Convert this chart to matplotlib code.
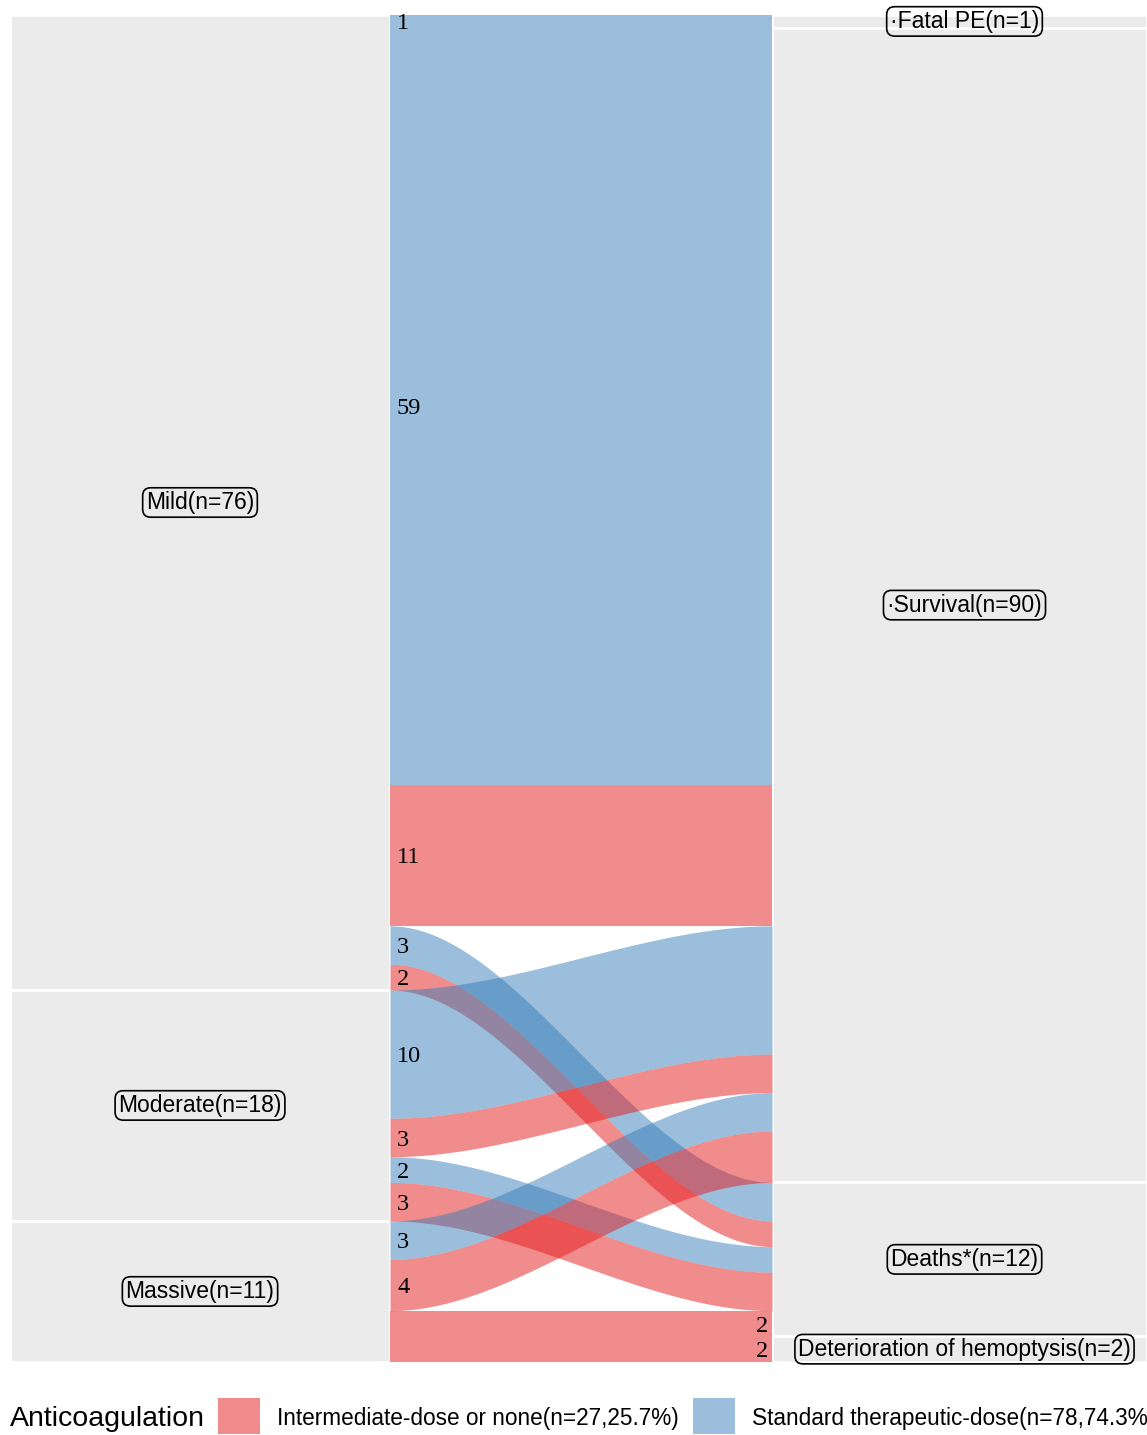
import numpy as np
import matplotlib
matplotlib.use("Agg")
import matplotlib.pyplot as plt
from matplotlib.patches import Rectangle

# strata
severity = ["Mild", "Moderate", "Massive"]
outcome = ["Fatal PE", "Survival", "Deaths*", "Deterioration of hemoptysis"]
outcome_labels = ["\u00b7Fatal PE", "\u00b7Survival", "Deaths*", "Deterioration of hemoptysis"]

# anticoagulation groups
groups = ["Intermediate-dose or none", "Standard therapeutic-dose"]
group_colors = ["#E41A1C", "#377EB8"]

# flows, in stacking order
flow_from = ["Mild", "Mild", "Mild", "Mild", "Mild",
             "Moderate", "Moderate", "Moderate", "Moderate",
             "Massive", "Massive", "Massive", "Massive"]
flow_to = ["Fatal PE", "Survival", "Survival", "Deaths*", "Deaths*",
           "Survival", "Survival", "Deaths*", "Deaths*",
           "Survival", "Survival", "Deaths*", "Deterioration of hemoptysis"]
flow_group = [1, 1, 0, 1, 0,
              1, 0, 1, 0,
              1, 0, 0, 0]
flow_n = [1, 59, 11, 3, 2, 10, 3, 2, 3, 3, 4, 2, 2]
label_side = ["L", "L", "L", "L", "L", "L", "L", "L", "L", "L", "L", "R", "R"]

total = sum(flow_n)

# stack positions on each axis
left_y0 = {}
pos = 0
for s in severity:
    for i in range(len(flow_n)):
        if flow_from[i] == s:
            left_y0[i] = pos
            pos += flow_n[i]
right_y0 = {}
pos = 0
for o in outcome:
    for i in range(len(flow_n)):
        if flow_to[i] == o:
            right_y0[i] = pos
            pos += flow_n[i]

sev_tot = [sum(n for f, n in zip(flow_from, flow_n) if f == s) for s in severity]
out_tot = [sum(n for f, n in zip(flow_to, flow_n) if f == o) for o in outcome]

W, H = 1147, 1435
fig = plt.figure(figsize=(W / 100, H / 100), dpi=100)
ax = fig.add_axes([10 / W, (H - 1362) / H, 1137 / W, 1347 / H])
ax.set_xlim(0, 1137)
ax.set_ylim(total, 0)
ax.axis("off")

xl0, xl1 = 0, 380      # left stratum
xr0, xr1 = 762, 1137   # right stratum
grey = "#EBEBEB"

lab_font = ["Liberation Sans", "DejaVu Sans"]
num_font = ["Liberation Serif", "DejaVu Serif"]
box = dict(boxstyle="round,pad=0.14,rounding_size=0.35", fc="none", ec="black", lw=1.2)

# strata boxes
y = 0
for s, n in zip(severity, sev_tot):
    ax.add_patch(Rectangle((xl0, y), xl1 - xl0, n, fc=grey, ec="white", lw=2, zorder=1))
    ax.text((xl0 + xl1) / 2, y + n / 2, f"{s}(n={n})", ha="center", va="center",
            fontsize=16.5, family=lab_font, bbox=box, zorder=5)
    y += n
y = 0
for o, n in zip(outcome_labels, out_tot):
    ax.add_patch(Rectangle((xr0, y), xr1 - xr0, n, fc=grey, ec="white", lw=2, zorder=1))
    ax.text((xr0 + xr1) / 2 + 5, y + n / 2, f"{o}(n={n})", ha="center", va="center",
            fontsize=16.5, family=lab_font, bbox=box, zorder=5)
    y += n

# flows
t = np.linspace(0, 1, 200)
sm = t * t * (3 - 2 * t)
xs = xl1 + (xr0 - xl1) * t
for i in range(len(flow_n)):
    a, b, n = left_y0[i], right_y0[i], flow_n[i]
    top = a + (b - a) * sm
    ax.fill_between(xs, top, top + n, color=group_colors[flow_group[i]],
                    alpha=0.5, lw=0, zorder=2)
    if label_side[i] == "L":
        ax.text(xl1 + 7, a + n / 2, str(n), ha="left", va="center_baseline",
                fontsize=17.5, family=num_font, zorder=6)
    else:
        ax.text(xr0 - 4, b + n / 2, str(n), ha="right", va="center_baseline",
                fontsize=17.5, family=num_font, zorder=6)

# legend along the bottom
lg = fig.add_axes([0, 0, 1, 1])
lg.set_xlim(0, W)
lg.set_ylim(H, 0)
lg.axis("off")
lg.patch.set_alpha(0)
lg.text(10, 1419, "Anticoagulation", ha="left", va="center", fontsize=20.5, family=lab_font)
key_x = [218, 693]
for g, (name, kx) in enumerate(zip(groups, key_x)):
    n = sum(m for k, m in zip(flow_group, flow_n) if k == g)
    lg.add_patch(Rectangle((kx, 1398), 42, 36, fc=group_colors[g], alpha=0.5, lw=0))
    lg.text(kx + 59, 1419, f"{name}(n={n},{n / total * 100:.1f}%)", ha="left",
            va="center", fontsize=16.3, family=lab_font)

fig.savefig("out.png", dpi=100)
